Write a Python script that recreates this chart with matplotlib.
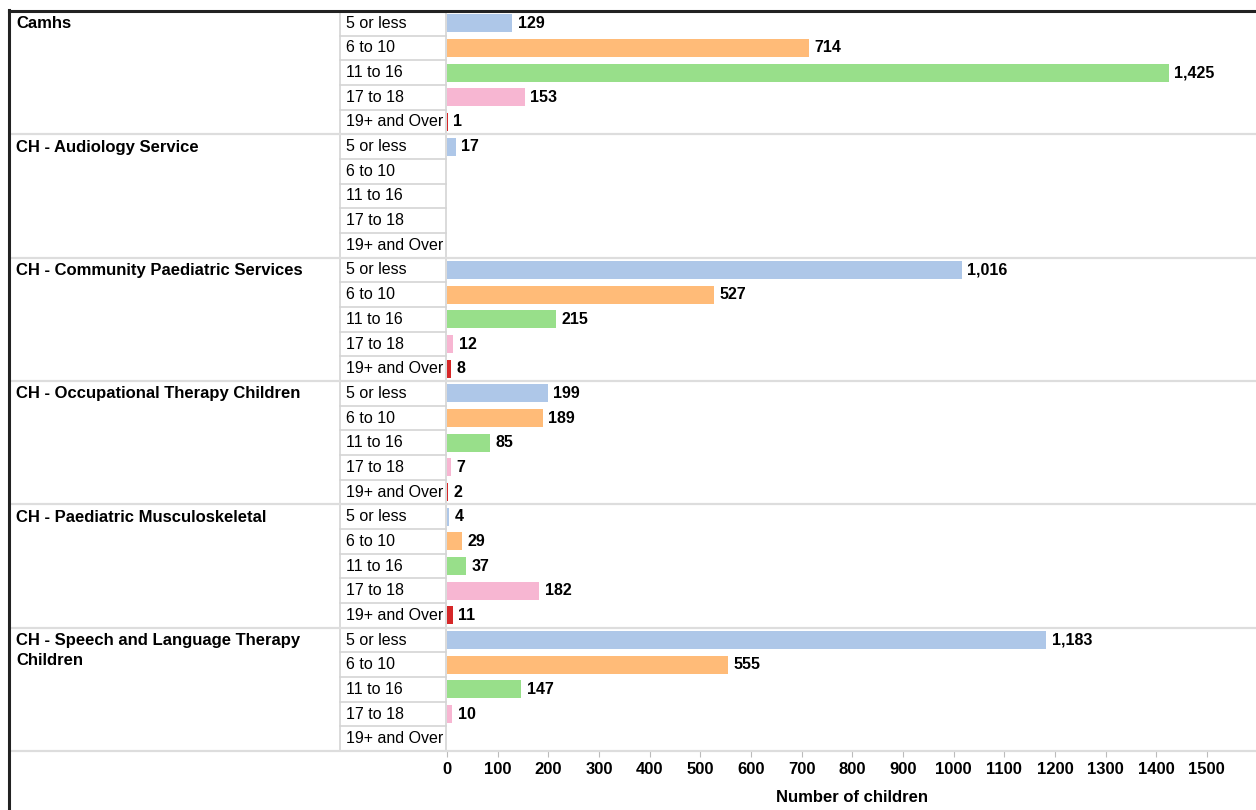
import matplotlib
matplotlib.use("Agg")
import matplotlib.pyplot as plt
import matplotlib.transforms as mtransforms
from matplotlib.lines import Line2D

plt.rcParams["font.family"] = ["Liberation Sans", "DejaVu Sans"]

# data
services = [
    "Camhs",
    "CH - Audiology Service",
    "CH - Community Paediatric Services",
    "CH - Occupational Therapy Children",
    "CH - Paediatric Musculoskeletal",
    "CH - Speech and Language Therapy\nChildren",
]
age_groups = ["5 or less", "6 to 10", "11 to 16", "17 to 18", "19+ and Over"]
age_colors = ["#aec7e8", "#ffbb78", "#98df8a", "#f7b6d2", "#d62728"]

camhs = [129, 714, 1425, 153, 1]
audiology = [17, None, None, None, None]
community_paed = [1016, 527, 215, 12, 8]
occ_therapy = [199, 189, 85, 7, 2]
paed_msk = [4, 29, 37, 182, 11]
speech_lang = [1183, 555, 147, 10, None]
values = [camhs, audiology, community_paed, occ_therapy, paed_msk, speech_lang]

xticks = list(range(0, 1501, 100))

W, H = 1256, 810
fig = plt.figure(figsize=(W / 100, H / 100), dpi=100)

# bar area (pixels: x 447..1256, y 11..751)
ax = fig.add_axes([447 / W, 1 - 751 / H, (W - 447) / W, 740 / H])
n_rows = len(services) * len(age_groups)
ax.set_ylim(n_rows - 0.5, -0.5)
ax.set_xlim(0, 1597)
for s in ax.spines.values():
    s.set_visible(False)
ax.set_yticks([])
ax.set_xticks(xticks)
ax.set_xticklabels([str(t) for t in xticks], fontsize=12, fontweight="bold")
ax.tick_params(axis="x", length=4, color="#bbbbbb", pad=4)
ax.set_xlabel("Number of children", fontsize=12, fontweight="bold", labelpad=9)

for g, vals in enumerate(values):
    for a, v in enumerate(vals):
        row = g * len(age_groups) + a
        if v is None:
            continue
        ax.barh(row, v, height=0.74, color=age_colors[a], edgecolor="none")
        ax.annotate(f"{v:,}", xy=(v, row), xytext=(4, 0), textcoords="offset points",
                    va="center", ha="left", fontsize=11.5, fontweight="bold")

# table part: x in figure fraction, y in row units
tr = mtransforms.blended_transform_factory(fig.transFigure, ax.transData)


def hline(y, x0, x1, **kw):
    fig.add_artist(Line2D([x0 / W, x1 / W], [y, y], transform=tr, **kw))


for g, name in enumerate(services):
    top = g * len(age_groups) - 0.5
    fig.text(16 / W, top + 0.22, name, transform=tr, va="top", ha="left",
             fontsize=12, fontweight="bold", linespacing=1.45)
    for a, age in enumerate(age_groups):
        row = g * len(age_groups) + a
        fig.text(346 / W, row, age, transform=tr, va="center", ha="left", fontsize=11.5)

# age cell borders
for k in range(n_rows + 1):
    hline(k - 0.5, 340, 446, color="#d4d4d4", lw=1.2)
for x in (340, 446):
    fig.add_artist(Line2D([x / W, x / W], [-0.5, n_rows - 0.5], transform=tr,
                          color="#d4d4d4", lw=1.2))

# group separators
for g in range(1, len(services) + 1):
    hline(g * len(age_groups) - 0.5, 10, W, color="#dddddd", lw=1.6)

# outer frame
hline(-0.5, 9, W, color="#222222", lw=2.2)
fig.add_artist(Line2D([9 / W, 9 / W], [0, 1 - 10 / H], transform=fig.transFigure,
                      color="#222222", lw=2.2))

fig.savefig("out.png", dpi=100)
